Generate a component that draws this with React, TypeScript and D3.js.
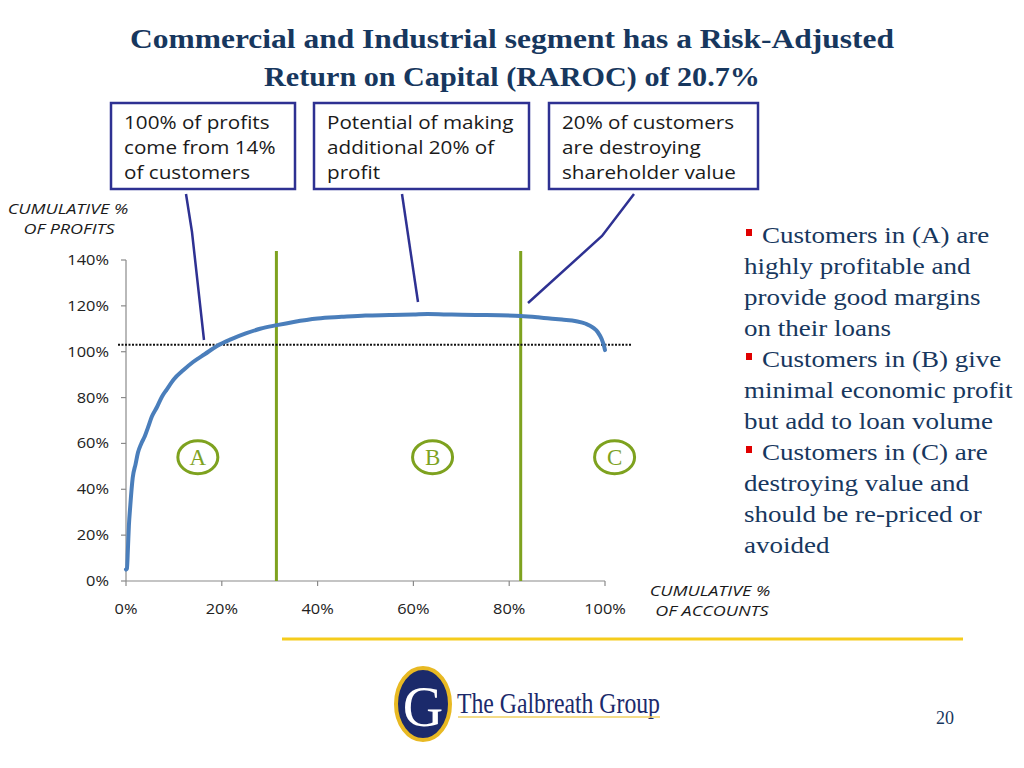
import React from "react";
import * as d3 from "d3";

const accountsPct = [0, 0.2, 0.4, 0.6, 0.9, 1.4, 2.0, 2.5, 3.2, 3.9, 4.6, 5.4, 6.5, 7.5, 8.5, 10, 12, 14, 16.5, 19, 22, 25, 28, 31.5, 35, 40, 45, 50, 55, 60, 63, 68, 73, 78, 82.4, 86, 88, 91, 94, 96, 97.5, 98.5, 99.3, 99.8, 100];
const profitsPct = [5, 5.5, 14, 24, 33, 45, 51, 56, 60, 63, 67, 71.7, 76, 80.4, 83.5, 88, 92, 95.5, 99, 102.5, 105.5, 108, 110, 111.6, 113, 114.5, 115.2, 115.8, 116, 116.2, 116.4, 116.2, 116, 115.9, 115.6, 115, 114.6, 114, 113.3, 112.2, 110.5, 108.5, 105.5, 102.5, 100.7];
const xTicks = [0, 20, 40, 60, 80, 100];
const yTicks = [0, 20, 40, 60, 80, 100, 120, 140];
const segmentBounds = [31.4, 82.4];
const breakEven = 103;
const segmentLabels = ["A", "B", "C"];
const segmentLabelX = [15, 64, 102];
const segmentLabelY = 54;
const titleLines = ["Commercial and Industrial segment has a Risk-Adjusted", "Return on Capital (RAROC) of 20.7%"];
const calloutTexts = [
  ["100% of profits", "come from 14%", "of customers"],
  ["Potential of making", "additional 20% of", "profit"],
  ["20% of customers", "are destroying", "shareholder value"],
];
const bulletLines = [
  { t: "Customers in (A) are", b: true },
  { t: "highly profitable and", b: false },
  { t: "provide good margins", b: false },
  { t: "on their loans", b: false },
  { t: "Customers in (B) give", b: true },
  { t: "minimal economic profit", b: false },
  { t: "but add to loan volume", b: false },
  { t: "Customers in (C) are", b: true },
  { t: "destroying value and", b: false },
  { t: "should be re-priced or", b: false },
  { t: "avoided", b: false },
];

const NAVY = "#17375e";
const BOX = "#2e3192";
const GREEN = "#7ea21f";
const serif = "'Liberation Serif', 'DejaVu Serif', serif";
const sans = "'Open Sans', 'Liberation Sans', sans-serif";

function T(props: { x: number; y: number; s: number; anchor?: string; size: number; italic?: boolean; fill?: string; children: React.ReactNode }) {
  return (
    <text transform={`translate(${props.x},${props.y}) scale(${props.s},1)`} textAnchor={props.anchor || "start"}
      fontFamily={sans} fontSize={props.size} fontStyle={props.italic ? "italic" : "normal"} fill={props.fill || "#1a1a1a"}>
      {props.children}
    </text>
  );
}

export default function App() {
  const x = d3.scaleLinear().domain([0, 100]).range([126, 605]);
  const y = d3.scaleLinear().domain([0, 140]).range([581, 260]);
  const pts = accountsPct.map((a, i) => [a, profitsPct[i]] as [number, number]);
  const line = d3.line<[number, number]>().x((d) => x(d[0])).y((d) => y(d[1])).curve(d3.curveMonotoneX);

  const boxes = [
    { x: 111, w: 184 },
    { x: 314, w: 215 },
    { x: 549, w: 209 },
  ];
  const connectors = [
    [[186, 194], [192, 232], [204, 340]],
    [[402, 194], [418, 302]],
    [[634, 194], [602, 236], [528, 303]],
  ];

  return (
    <svg width={1024} height={768} style={{ position: "absolute", left: 0, top: 0, background: "#fff" }}>
      {/* Title */}
      {titleLines.map((t, i) => (
        <text key={i} x={512} y={48 + i * 38} textAnchor="middle" fontFamily={serif} fontWeight="bold" fontSize={28} fill={NAVY}
          textLength={i === 0 ? 764 : 496} lengthAdjust="spacingAndGlyphs">{t}</text>
      ))}

      {/* Callout boxes */}
      {boxes.map((b, i) => (
        <g key={i}>
          <rect x={b.x} y={103} width={b.w} height={86} fill="#fff" stroke={BOX} strokeWidth={2.5} />
          {calloutTexts[i].map((t, j) => (
            <T key={j} x={b.x + 13} y={129 + j * 25} s={1.1} size={18.8}>{t}</T>
          ))}
        </g>
      ))}
      {connectors.map((c, i) => (
        <polyline key={i} points={c.map((p) => p.join(",")).join(" ")} fill="none" stroke={BOX} strokeWidth={2.5} />
      ))}

      {/* Axis titles */}
      <T x={68} y={214} s={1.2} anchor="middle" size={15} italic>CUMULATIVE %</T>
      <T x={69} y={234} s={1.2} anchor="middle" size={15} italic>OF PROFITS</T>
      <T x={710} y={596} s={1.2} anchor="middle" size={15} italic>CUMULATIVE %</T>
      <T x={712} y={616} s={1.2} anchor="middle" size={15} italic>OF ACCOUNTS</T>

      {/* Axes */}
      <line x1={x(0)} x2={x(0)} y1={y(0)} y2={y(140)} stroke="#8a8a8a" strokeWidth={1.2} />
      <line x1={x(0)} x2={x(100)} y1={y(0)} y2={y(0)} stroke="#8a8a8a" strokeWidth={1.2} />
      {yTicks.map((v) => (
        <g key={v}>
          <line x1={x(0) - 5} x2={x(0)} y1={y(v)} y2={y(v)} stroke="#8a8a8a" strokeWidth={1.2} />
          <T x={109} y={y(v) + 5} s={1.13} anchor="end" size={14.5} fill="#222">{v}%</T>
        </g>
      ))}
      {xTicks.map((v) => (
        <g key={v}>
          <line x1={x(v)} x2={x(v)} y1={y(0)} y2={y(0) + 5} stroke="#8a8a8a" strokeWidth={1.2} />
          <T x={x(v)} y={614} s={1.13} anchor="middle" size={14.5} fill="#222">{v}%</T>
        </g>
      ))}

      {/* Segment boundaries */}
      {segmentBounds.map((v) => (
        <line key={v} x1={x(v)} x2={x(v)} y1={251} y2={y(0)} stroke={GREEN} strokeWidth={3} />
      ))}

      {/* Break-even dotted line */}
      <line x1={118} x2={632} y1={y(breakEven)} y2={y(breakEven)} stroke="#111" strokeWidth={2} strokeDasharray="2,1.5" />

      {/* Curve */}
      <path d={line(pts) || ""} fill="none" stroke="#4a7ebb" strokeWidth={4} strokeLinejoin="round" strokeLinecap="round" />

      {/* Segment labels */}
      {segmentLabels.map((s, i) => (
        <g key={s}>
          <ellipse cx={x(segmentLabelX[i])} cy={y(segmentLabelY)} rx={20} ry={16.5} fill="#fff" stroke={GREEN} strokeWidth={3} />
          <text x={x(segmentLabelX[i])} y={y(segmentLabelY) + 8} textAnchor="middle" fontFamily={serif} fontSize={23} fill={GREEN}>{s}</text>
        </g>
      ))}

      {/* Bullets */}
      <g transform="translate(744,0) scale(1.15,1)">
        {bulletLines.map((l, i) => (
          <g key={i}>
            {l.b && <rect x={2 / 1.15} y={243 + i * 31 - 14} width={6 / 1.15} height={7} fill="#e00000" />}
            <text x={l.b ? 18 / 1.15 : 0} y={243 + i * 31} fontFamily={serif} fontSize={23.5} fill={NAVY}>{l.t}</text>
          </g>
        ))}
      </g>

      {/* Footer line */}
      <line x1={282} x2={963} y1={639} y2={639} stroke="#f5cc1c" strokeWidth={3} />

      {/* Logo */}
      <ellipse cx={423} cy={704} rx={27} ry={36} fill="#1b2a6b" stroke="#e8b923" strokeWidth={4} />
      <text x={423} y={726} textAnchor="middle" fontFamily={serif} fontSize={56} fill="#fff">G</text>
      <text x={457} y={713} fontFamily={serif} fontSize={30} fill="#1b2a6b" textLength={203} lengthAdjust="spacingAndGlyphs">The Galbreath Group</text>
      <line x1={458} x2={660} y1={717} y2={717} stroke="#f0d060" strokeWidth={1.5} />

      {/* Page number */}
      <text x={945} y={724} textAnchor="middle" fontFamily={serif} fontSize={18} fill={NAVY}>20</text>
    </svg>
  );
}
